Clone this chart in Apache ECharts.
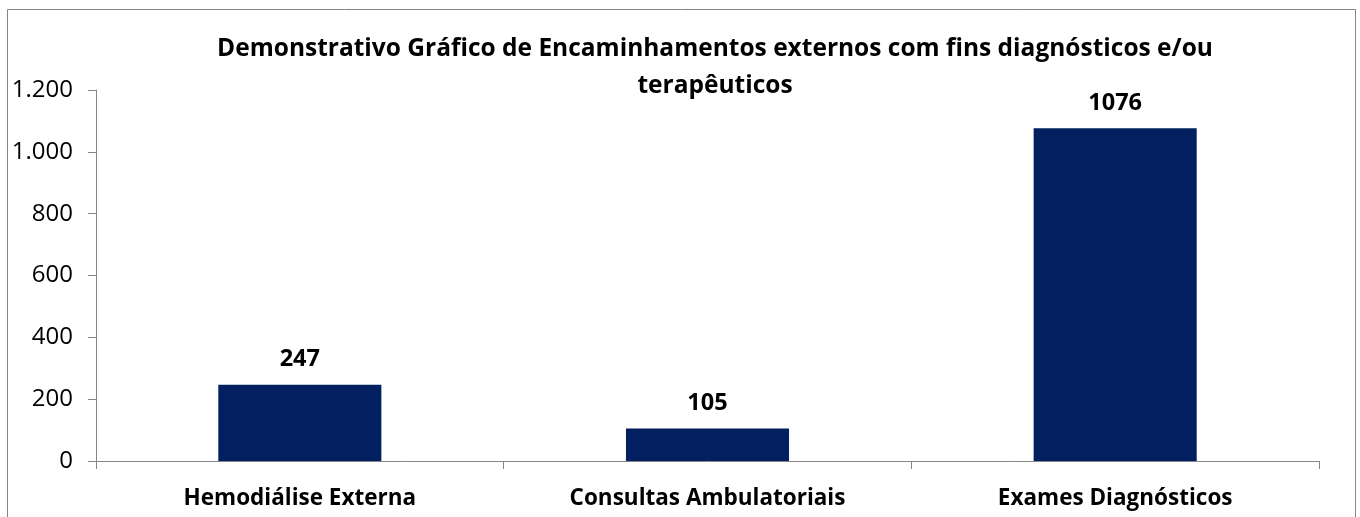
<!DOCTYPE html>
<html>
<head>
<meta charset="utf-8">
<script src="https://cdn.jsdelivr.net/npm/echarts@6/dist/echarts.min.js"></script>
<style>
  html, body { margin: 0; padding: 0; background: #fff; }
  #chart { width: 1360px; height: 517px; }
</style>
</head>
<body>
<div id="chart"></div>
<script>
const categories = ['Hemodiálise Externa', 'Consultas Ambulatoriais', 'Exames Diagnósticos']
const values = [247, 105, 1076]
const titleText = 'Demonstrativo Gráfico de Encaminhamentos externos com fins diagnósticos e/ou\nterapêuticos'

const font = 'Open Sans'
const axisGrey = '#868686'

const chart = echarts.init(document.getElementById('chart'))
chart.setOption({
  animation: false,
  textStyle: { fontFamily: font },
  graphic: [{
    type: 'rect',
    shape: { x: 7.5, y: 9.5, width: 1348, height: 520 },
    style: { fill: 'none', stroke: axisGrey, lineWidth: 1 },
    silent: true
  }],
  title: {
    text: titleText,
    left: 710,
    textAlign: 'center',
    top: 26,
    textStyle: {
      fontFamily: font,
      fontSize: 24.5,
      fontWeight: 'bold',
      color: '#000',
      lineHeight: 37
    }
  },
  grid: { left: 96, right: 41, top: 90, bottom: 56 },
  xAxis: {
    type: 'category',
    data: categories,
    axisLine: { lineStyle: { color: axisGrey } },
    axisTick: { show: true, length: 8, lineStyle: { color: axisGrey } },
    axisLabel: {
      fontFamily: font,
      fontSize: 22.5,
      fontWeight: 'bold',
      color: '#000',
      margin: 26
    }
  },
  yAxis: {
    type: 'value',
    min: 0,
    max: 1200,
    interval: 200,
    splitLine: { show: false },
    axisLine: { show: true, lineStyle: { color: axisGrey } },
    axisTick: { show: true, length: 8, lineStyle: { color: axisGrey } },
    axisLabel: {
      fontFamily: font,
      fontSize: 24,
      color: '#000',
      margin: 23,
      formatter: v => v.toLocaleString('de-DE')
    }
  },
  series: [{
    type: 'bar',
    data: values,
    barWidth: '40%',
    itemStyle: { color: '#02205f' },
    label: {
      show: true,
      position: 'top',
      distance: 13,
      fontFamily: font,
      fontSize: 23.5,
      fontWeight: 'bold',
      color: '#000'
    }
  }]
})
</script>
</body>
</html>
